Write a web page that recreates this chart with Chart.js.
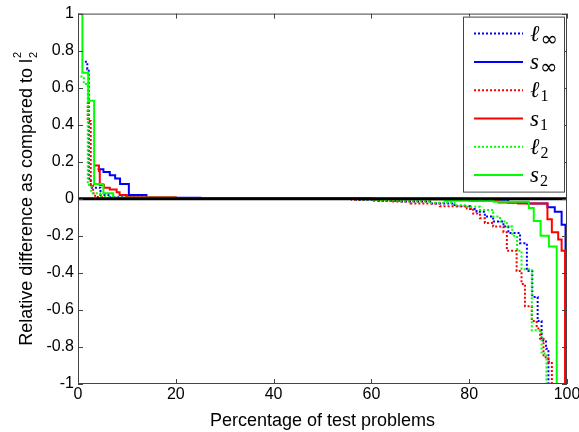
<!DOCTYPE html>
<html>
<head>
<meta charset="utf-8">
<script src="https://cdn.jsdelivr.net/npm/chart.js@4.4.0/dist/chart.umd.min.js"></script>
<style>
  html, body { margin: 0; padding: 0; background: #fff; }
</style>
</head>
<body>
<canvas id="chart" width="579" height="432"></canvas>
<script>
// tick labels
const xTickLabels = ['0', '20', '40', '60', '80', '100'];
const yTickLabels = ['-1', '-0.8', '-0.6', '-0.4', '-0.2', '0', '0.2', '0.4', '0.6', '0.8', '1'];

// l_inf (dotted blue)
const linfX = [1.4, 1.9, 2.2, 2.6, 4.6, 6.5, 14, 25, 57, 61, 66, 72, 77, 80.2, 81.5, 83.2, 84.9, 87, 88, 90.4, 91.8, 92.9, 94.0, 94.8, 95.7, 96.2, 100];
const linfY = [0.74, 0.70, 0.11, 0.06, 0.02, 0.008, 0.003, 0.001, -0.005, -0.01, -0.015, -0.025, -0.04, -0.055, -0.07, -0.096, -0.123, -0.15, -0.185, -0.24, -0.39, -0.53, -0.66, -0.765, -0.81, -1, -1];
// s_inf (solid blue)
const sinfX = [4.0, 5.2, 6.5, 7.6, 8.6, 10.4, 14, 25, 45, 60, 80, 88, 92, 96, 97.5, 98.9, 99.7, 100];
const sinfY = [0.16, 0.145, 0.127, 0.11, 0.08, 0.02, 0.006, 0.002, 0.001, 0, -0.005, -0.02, -0.025, -0.045, -0.07, -0.14, -0.28, -0.28];
// l_1 (dotted red)
const l1X = [1.9, 2.0, 2.6, 3.1, 3.5, 5.5, 12, 25, 56, 60, 64, 68, 74, 79.5, 80.8, 82.2, 83.2, 84.9, 87, 87.7, 89.7, 90.7, 91.4, 92.8, 93.8, 94.5, 95.2, 96.2, 96.9, 100];
const l1Y = [0.52, 0.42, 0.075, 0.03, 0.01, 0.005, 0.002, 0.001, -0.005, -0.01, -0.015, -0.025, -0.04, -0.052, -0.08, -0.105, -0.13, -0.15, -0.18, -0.28, -0.39, -0.46, -0.58, -0.66, -0.70, -0.755, -0.855, -0.88, -1, -1];
// s_1 (solid red)
const s1X = [3.4, 4.3, 4.45, 5.3, 6.5, 7.9, 8.5, 10, 20, 40, 60, 80, 86, 90, 96, 96.9, 98.2, 98.9, 99.6, 100];
const s1Y = [0.18, 0.15, 0.075, 0.06, 0.05, 0.035, 0.02, 0.008, 0.003, 0.001, -0.002, -0.01, -0.02, -0.025, -0.11, -0.18, -0.22, -0.28, -1, -1];
// l_2 (dotted green)
const l2X = [0.5, 1.2, 2.0, 2.7, 4.5, 7, 15, 40, 58, 62, 66, 72, 77, 79.5, 82.2, 84.9, 86.3, 87.7, 88.8, 89.8, 90.7, 92.8, 94.8, 95.8, 100];
const l2Y = [0.66, 0.62, 0.075, 0.03, 0.01, 0.004, 0.002, 0, -0.004, -0.008, -0.013, -0.022, -0.035, -0.043, -0.06, -0.096, -0.123, -0.15, -0.2, -0.28, -0.38, -0.71, -0.835, -1, -1];
// s_2 (solid green)
const s2X = [0, 0.9, 2.1, 3.3, 5.2, 7.2, 20, 40, 60, 75, 85, 92.2, 93.2, 94.6, 96.3, 97.9, 100];
const s2Y = [1, 0.68, 0.53, 0.08, 0.03, 0.006, 0.002, 0.001, -0.002, -0.01, -0.016, -0.05, -0.12, -0.2, -0.257, -1, -1];
// zero reference line
const zeroX = [0, 100];
const zeroY = [0, 0];

const legendNames = [['ℓ', '∞'], ['s', '∞'], ['ℓ', '1'], ['s', '1'], ['ℓ', '2'], ['s', '2']];

function series(label, xs, ys, color, dotted, order) {
  return {
    label: label,
    data: xs.map((x, i) => ({x: x, y: ys[i]})),
    borderColor: color,
    borderWidth: 2,
    borderDash: dotted ? [2, 2] : [],
    stepped: true,
    pointRadius: 0,
    fill: false,
    order: order
  };
}

const frame = {
  id: 'frame',
  afterDraw(chart) {
    const {ctx, chartArea: a, scales: {x, y}} = chart;
    ctx.save();
    ctx.strokeStyle = '#444';
    ctx.lineWidth = 1;
    ctx.setLineDash([]);
    ctx.strokeRect(a.left + 0.5, a.top + 0.5, a.right - a.left - 1, a.bottom - a.top - 1);
    ctx.beginPath();
    x.ticks.forEach(t => {
      const px = Math.round(x.getPixelForValue(t.value)) + 0.5;
      ctx.moveTo(px, a.bottom); ctx.lineTo(px, a.bottom - 5);
      ctx.moveTo(px, a.top); ctx.lineTo(px, a.top + 5);
    });
    y.ticks.forEach(t => {
      const py = Math.round(y.getPixelForValue(t.value)) + 0.5;
      ctx.moveTo(a.left, py); ctx.lineTo(a.left + 5, py);
      ctx.moveTo(a.right, py); ctx.lineTo(a.right - 5, py);
    });
    ctx.stroke();

    // legend
    const bx = a.right - 104, by = a.top + 3, bw = 101, bh = 175;
    ctx.fillStyle = '#fff';
    ctx.fillRect(bx, by, bw, bh);
    ctx.strokeStyle = '#444';
    ctx.strokeRect(bx + 0.5, by + 0.5, bw, bh);
    chart.data.datasets.slice(0, 6).forEach((ds, i) => {
      const cy = by + 17 + i * 28.3;
      ctx.strokeStyle = ds.borderColor;
      ctx.lineWidth = 2;
      ctx.setLineDash(ds.borderDash);
      ctx.beginPath();
      ctx.moveTo(bx + 11, cy);
      ctx.lineTo(bx + 60, cy);
      ctx.stroke();
      ctx.setLineDash([]);
      const [main, sub] = legendNames[i];
      ctx.fillStyle = '#000';
      ctx.textAlign = 'left';
      ctx.textBaseline = 'alphabetic';
      ctx.font = 'italic 23px "Liberation Serif"';
      const tx = bx + 67;
      ctx.fillText(main, tx, cy + 7);
      const w = ctx.measureText(main).width;
      if (sub === '∞') {
        ctx.font = '21px "DejaVu Sans"';
        ctx.fillText(sub, tx + w + 1, cy + 12);
      } else {
        ctx.font = '16px "Liberation Serif"';
        ctx.fillText(sub, tx + w + 1, cy + 11);
      }
    });

    // y axis title with stacked 2s
    ctx.fillStyle = '#000';
    const mainTitle = 'Relative difference as compared to l';
    ctx.font = '18px "Liberation Sans"';
    const w1 = ctx.measureText(mainTitle).width;
    ctx.font = '11px "Liberation Sans"';
    const w2 = ctx.measureText('2').width;
    const mid = (a.top + a.bottom) / 2;
    ctx.translate(32, 0);
    ctx.rotate(-Math.PI / 2);
    const u0 = -(mid + (w1 + w2 + 1) / 2);
    ctx.font = '18px "Liberation Sans"';
    ctx.textAlign = 'left';
    ctx.fillText(mainTitle, u0, 0);
    ctx.font = '11px "Liberation Sans"';
    ctx.fillText('2', u0 + w1 + 1, -11);
    ctx.fillText('2', u0 + w1 + 1, 5);
    ctx.restore();
  }
};

new Chart(document.getElementById('chart'), {
  type: 'line',
  data: {
    datasets: [
      series('l_inf', linfX, linfY, '#0000ff', true, 6),
      series('s_inf', sinfX, sinfY, '#0000ff', false, 5),
      series('l_1', l1X, l1Y, '#ff0000', true, 4),
      series('s_1', s1X, s1Y, '#ff0000', false, 3),
      series('l_2', l2X, l2Y, '#00ff00', true, 2),
      series('s_2', s2X, s2Y, '#00ff00', false, 1),
      {
        label: 'zero',
        data: zeroX.map((x, i) => ({x: x, y: zeroY[i]})),
        borderColor: '#000',
        borderWidth: 3,
        pointRadius: 0,
        order: 0
      }
    ]
  },
  options: {
    responsive: false,
    animation: false,
    layout: { padding: { top: 10, right: 12, left: 0, bottom: 0 } },
    plugins: { legend: { display: false }, tooltip: { enabled: false } },
    scales: {
      x: {
        type: 'linear', min: 0, max: 100,
        grid: { display: false, drawTicks: false },
        border: { display: false },
        ticks: {
          stepSize: 20, padding: 1, color: '#000', maxRotation: 0,
          font: { family: '"Liberation Sans"', size: 16 },
          callback: (v, i) => xTickLabels[i]
        },
        title: {
          display: true, text: 'Percentage of test problems', color: '#000',
          font: { family: '"Liberation Sans"', size: 18 }, padding: { top: 0, bottom: 0 }
        },
        afterFit: s => { s.height = 48; s.paddingLeft = 0; s.paddingRight = 0; }
      },
      y: {
        min: -1, max: 1,
        grid: { display: false, drawTicks: false },
        border: { display: false },
        ticks: {
          stepSize: 0.2, padding: 4, color: '#000',
          font: { family: '"Liberation Sans"', size: 16 },
          callback: (v, i) => yTickLabels[i]
        },
        afterFit: s => { s.width = 78; }
      }
    }
  },
  plugins: [frame]
});
</script>
</body>
</html>
